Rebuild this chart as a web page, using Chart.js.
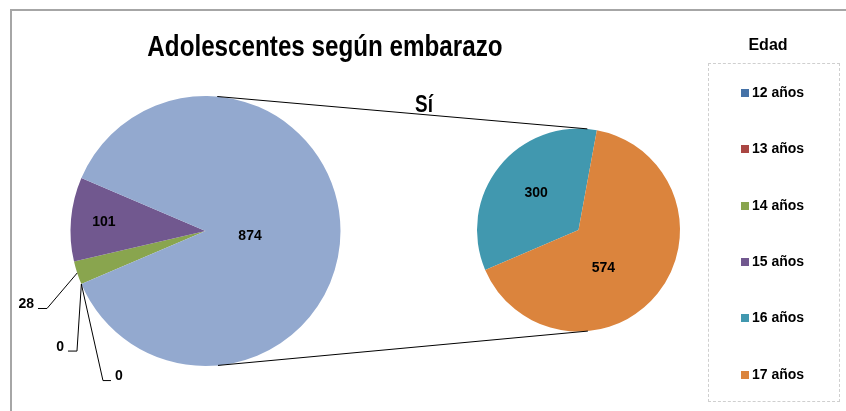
<!DOCTYPE html>
<html lang="es">
<head>
<meta charset="utf-8">
<title>Adolescentes según embarazo</title>
<script src="https://cdn.jsdelivr.net/npm/chart.js@4.4.1/dist/chart.umd.min.js"></script>
<style>
  html, body { margin: 0; padding: 0; background: #fff; }
  #lienzo { position: relative; width: 846px; height: 411px; overflow: hidden; font-family: "Liberation Sans", Arial, sans-serif; color: #000; }
  #marco { position: absolute; left: 10px; top: 9px; width: 900px; height: 500px; border-top: 2px solid #a6a6a6; border-left: 2px solid #a6a6a6; }
  canvas { position: absolute; left: 0; top: 0; }
  #titulo { position: absolute; left: 0; width: 650px; top: 32px; text-align: center; font: bold 29px/29px "Liberation Sans", Arial, sans-serif; transform: scaleX(0.835); transform-origin: 325px 0; }
  #si { position: absolute; left: 374px; width: 100px; top: 93px; text-align: center; font: bold 23px/23px "Liberation Sans", Arial, sans-serif; transform: scaleX(0.82); transform-origin: 50px 0; }
  #edad { position: absolute; left: 718px; width: 100px; top: 37px; text-align: center; font: bold 16px/16px "Liberation Sans", Arial, sans-serif; }
  #caja { position: absolute; left: 708px; top: 63px; width: 130px; height: 337px; border: 1px dashed #cfcfcf; }
  .item { position: absolute; left: 741px; font: bold 14px/14px "Liberation Sans", Arial, sans-serif; white-space: nowrap; }
  .item i { display: inline-block; width: 8px; height: 8px; margin-right: 3px; vertical-align: 0; }
</style>
</head>
<body>
<div id="lienzo">
  <div id="marco"></div>
  <canvas id="principal" width="846" height="411"></canvas>
  <canvas id="secundario" width="846" height="411"></canvas>
  <div id="titulo">Adolescentes según embarazo</div>
  <div id="si">Sí</div>
  <div id="edad">Edad</div>
  <div id="caja"></div>
</div>
<script>
// datos
const categorias = ['12 años', '13 años', '14 años', '15 años', '16 años', '17 años'];
const colores = ['#4572A7', '#AA4643', '#89A54E', '#71588F', '#4198AF', '#DB843D'];
const valoresNo = [0, 0, 28, 101];      // 12 a 15 años
const valoresSi = [300, 574];           // 16 y 17 años
const etiquetaSi = 'Sí';
const colorSi = '#93A9CF';

const totalSi = valoresSi.reduce((a, b) => a + b, 0);
const totalGeneral = totalSi + valoresNo.reduce((a, b) => a + b, 0);
// Excel centra la porción agregada hacia la derecha
const giro = 90 + 180 * totalSi / totalGeneral;

// leyenda
const lienzo = document.getElementById('lienzo');
categorias.forEach((c, i) => {
  const d = document.createElement('div');
  d.className = 'item';
  d.style.top = (85 + i * 56.3) + 'px';
  d.innerHTML = '<i style="background:' + colores[i] + '"></i>' + c;
  lienzo.appendChild(d);
});

const fuenteEtiqueta = 'bold 14px "Liberation Sans", Arial, sans-serif';

const etiquetasPie = {
  id: 'etiquetasPie',
  afterDatasetsDraw(chart, args, opts) {
    const ctx = chart.ctx;
    const meta = chart.getDatasetMeta(0);
    const valores = chart.data.datasets[0].data;
    ctx.save();
    ctx.font = fuenteEtiqueta;
    ctx.fillStyle = '#000';
    ctx.strokeStyle = '#000';
    ctx.lineWidth = 1;
    ctx.textBaseline = 'middle';
    meta.data.forEach((arc, i) => {
      const p = opts.posiciones[i];
      const { x, y, startAngle, endAngle, outerRadius } = arc.getProps(['x', 'y', 'startAngle', 'endAngle', 'outerRadius'], true);
      const medio = (startAngle + endAngle) / 2;
      const texto = String(valores[i]);
      if (p.guia) {
        const ax = x + Math.cos(medio) * outerRadius;
        const ay = y + Math.sin(medio) * outerRadius;
        const cx = ax + p.guia[0], cy = ay + p.guia[1];
        const ex = cx + p.guia[2];
        ctx.beginPath();
        ctx.moveTo(ax, ay);
        ctx.lineTo(cx, cy);
        ctx.lineTo(ex, cy);
        ctx.stroke();
        ctx.textAlign = p.guia[2] < 0 ? 'right' : 'left';
        ctx.fillText(texto, ex + Math.sign(p.guia[2]) * 4, cy - 4);
      } else {
        ctx.textAlign = 'center';
        ctx.fillText(texto,
          x + Math.cos(medio) * outerRadius * p.f + (p.dx || 0),
          y + Math.sin(medio) * outerRadius * p.f + (p.dy || 0));
      }
    });
    ctx.restore();
  }
};

// lineas que unen las dos tortas (tangentes exteriores)
const conectores = {
  id: 'conectores',
  afterDraw(chart) {
    const a = grafico1.getDatasetMeta(0).data[0];
    const b = chart.getDatasetMeta(0).data[0];
    const x1 = a.x, y1 = a.y, r1 = a.outerRadius;
    const x2 = b.x, y2 = b.y, r2 = b.outerRadius;
    const d = Math.hypot(x2 - x1, y2 - y1);
    const fi = Math.atan2(y2 - y1, x2 - x1);
    const te = Math.acos((r1 - r2) / d);
    const ctx = chart.ctx;
    ctx.save();
    ctx.strokeStyle = '#000';
    ctx.lineWidth = 1;
    [fi - te, fi + te].forEach(ang => {
      ctx.beginPath();
      ctx.moveTo(x1 + r1 * Math.cos(ang), y1 + r1 * Math.sin(ang));
      ctx.lineTo(x2 + r2 * Math.cos(ang), y2 + r2 * Math.sin(ang));
      ctx.stroke();
    });
    ctx.restore();
  }
};

const opcionesBase = (relleno, posiciones) => ({
  responsive: false,
  animation: false,
  events: [],
  rotation: giro,
  layout: { padding: relleno },
  plugins: {
    legend: { display: false },
    tooltip: { enabled: false },
    etiquetasPie: { posiciones: posiciones }
  }
});

const grafico1 = new Chart(document.getElementById('principal'), {
  type: 'pie',
  data: {
    labels: categorias.slice(0, 4).concat([etiquetaSi]),
    datasets: [{
      data: valoresNo.concat([totalSi]),
      backgroundColor: colores.slice(0, 4).concat([colorSi]),
      borderWidth: 0,
      hoverOffset: 0
    }]
  },
  options: opcionesBase({ left: 70.5, right: 505.5, top: 96, bottom: 45 }, [
    { guia: [-4.4, 67, -9] },
    { guia: [21.6, 96.5, 8] },
    { guia: [-30.2, 35.5, -9] },
    { f: 0.755 },
    { f: 0.33, dy: 5 }
  ]),
  plugins: [etiquetasPie]
});

const grafico2 = new Chart(document.getElementById('secundario'), {
  type: 'pie',
  data: {
    labels: categorias.slice(4),
    datasets: [{
      data: valoresSi,
      backgroundColor: colores.slice(4),
      borderWidth: 0,
      hoverOffset: 0
    }]
  },
  options: opcionesBase({ left: 477, right: 166, top: 128.5, bottom: 79.5 }, [
    { f: 0.56, dx: 2, dy: -1 },
    { f: 0.44, dx: -10, dy: 10 }
  ]),
  plugins: [etiquetasPie, conectores]
});
</script>
</body>
</html>
